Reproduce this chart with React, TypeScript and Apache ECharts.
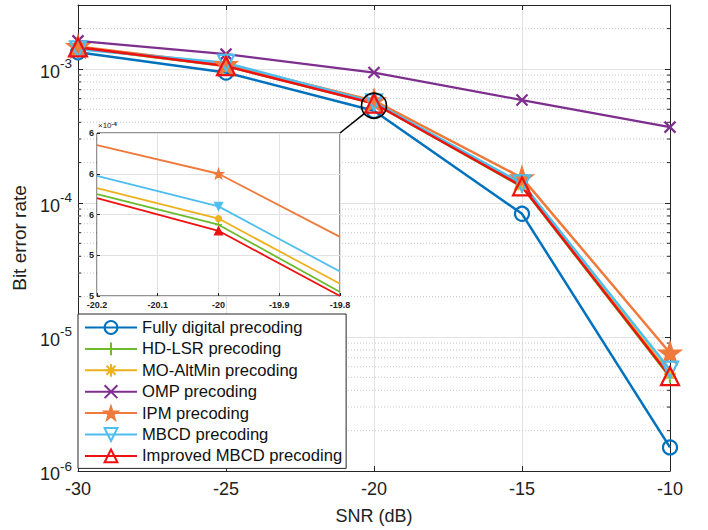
import React, { useEffect, useRef } from "react";
import * as echarts from "echarts";

// ---- data ----
const snr = [-30, -25, -20, -15, -10];
const fullyDigital = [1.33e-3, 0.94e-3, 4.87e-4, 8.3e-5, 1.5e-6];
const hdLsr = [1.44e-3, 1.05e-3, 5.55e-4, 1.32e-4, 5.0e-6];
const moAltMin = [1.45e-3, 1.06e-3, 5.58e-4, 1.35e-4, 5.3e-6];
const omp = [1.62e-3, 1.29e-3, 9.4e-4, 5.86e-4, 3.68e-4];
const ipm = [1.47e-3, 1.08e-3, 5.8e-4, 1.54e-4, 7.6e-6];
const mbcd = [1.4e-3, 1.11e-3, 5.64e-4, 1.4e-4, 5.7e-6];
const improvedMbcd = [1.45e-3, 1.05e-3, 5.52e-4, 1.33e-4, 5.1e-6];

// inset (values in units of 1e-4)
const insetSnr = [-20.2, -20, -19.8];
const insetIpm = [5.94, 5.8, 5.49];
const insetMbcd = [5.79, 5.64, 5.32];
const insetMoAltMin = [5.73, 5.58, 5.26];
const insetHdLsr = [5.7, 5.55, 5.22];
const insetImproved = [5.68, 5.52, 5.2];

const names = [
  "Fully digital precoding",
  "HD-LSR precoding",
  "MO-AltMin precoding",
  "OMP precoding",
  "IPM precoding",
  "MBCD precoding",
  "Improved MBCD precoding",
];

const X_MIN = -30;
const X_MAX = -10;
const Y_MIN = 1e-6;
const Y_MAX = 3e-3;
const decades = [1e-6, 1e-5, 1e-4, 1e-3];
const minorMultipliers = [2, 3, 4, 5, 6, 7, 8, 9];

const FONT = "'Liberation Sans', Arial, Helvetica, sans-serif";
const C = {
  blue: "#0072BD",
  green: "#6DBB2E",
  yellow: "#EDB120",
  purple: "#7E2F8E",
  orange: "#EF7A3C",
  cyan: "#4DBEEE",
  red: "#EE1111",
};

const SYM = {
  plus: "path://M5,0L5,10M0,5L10,5",
  asterisk: "path://M5,0L5,10M0,5L10,5M1.5,1.5L8.5,8.5M8.5,1.5L1.5,8.5",
  cross: "path://M0,0L10,10M10,0L0,10",
  star:
    "path://M10,0L12.245,6.91L19.511,6.91L13.633,11.18L15.878,18.09L10,13.82L4.122,18.09L6.367,11.18L0.489,6.91L7.755,6.91Z",
  down: "path://M0,0L10,0L5,8.66Z",
  up: "path://M5,0L10,8.66L0,8.66Z",
};

export default function App() {
  const ref = useRef<HTMLDivElement>(null);
  useEffect(() => {
    if (!ref.current) return;
    const chart = echarts.init(ref.current, undefined, { renderer: "svg" });

    const minorValues: number[] = [];
    decades.forEach((d) =>
      minorMultipliers.forEach((m) => {
        const v = m * d;
        if (v < Y_MAX * 0.999) minorValues.push(v);
      })
    );

    const mainSeries = (
      name: string,
      vals: number[],
      color: string,
      symbol: string,
      size: number,
      fill: string,
      lw = 2.5
    ) => ({
      type: "line",
      name,
      xAxisIndex: 0,
      yAxisIndex: 0,
      data: snr.map((x, i) => [x, vals[i]]),
      symbol,
      symbolSize: size,
      showSymbol: true,
      lineStyle: { color, width: lw },
      itemStyle: { color: fill, borderColor: color, borderWidth: 2.2 },
      z: 3,
    });

    const insetSeries = (
      name: string,
      vals: number[],
      color: string,
      symbol: string,
      size: number
    ) => ({
      type: "line",
      name,
      xAxisIndex: 2,
      yAxisIndex: 2,
      data: insetSnr.map((x, i) =>
        x === -20 ? [x, vals[i]] : { value: [x, vals[i]], symbol: "none" }
      ),
      symbol,
      symbolSize: size,
      lineStyle: { color, width: 1.8 },
      itemStyle: { color, borderColor: color, borderWidth: 1.2 },
      z: 6,
    });

    const axisTxt = { color: "#222", fontFamily: FONT };

    chart.setOption({
      animation: false,
      textStyle: { fontFamily: FONT },
      grid: [
        { left: 78, right: 38, top: 5, bottom: 59, show: false },
        {
          left: 97,
          top: 133,
          width: 243,
          height: 163,
          show: true,
          backgroundColor: "#fff",
          borderColor: "#262626",
          borderWidth: 1,
          z: 4,
        },
      ],
      xAxis: [
        {
          gridIndex: 0,
          type: "value",
          min: X_MIN,
          max: X_MAX,
          interval: 5,
          position: "bottom",
          name: "SNR (dB)",
          nameLocation: "middle",
          nameGap: 36,
          nameTextStyle: { ...axisTxt, fontSize: 18 },
          axisLine: { show: true, lineStyle: { color: "#262626", width: 1 } },
          axisTick: { inside: true, length: 5, lineStyle: { color: "#262626" } },
          axisLabel: { ...axisTxt, fontSize: 18, margin: 9 },
          splitLine: { show: true, lineStyle: { color: "#e2e2e2", width: 1 } },
        },
        {
          gridIndex: 0,
          type: "value",
          min: X_MIN,
          max: X_MAX,
          interval: 5,
          position: "top",
          axisLine: { show: true, lineStyle: { color: "#262626", width: 1 } },
          axisTick: { inside: true, length: 5, lineStyle: { color: "#262626" } },
          axisLabel: { show: false },
          splitLine: { show: false },
        },
        {
          gridIndex: 1,
          type: "value",
          min: -20.2,
          max: -19.8,
          interval: 0.1,
          z: 5,
          axisLine: { show: false },
          axisTick: { inside: true, length: 3, lineStyle: { color: "#262626" } },
          axisLabel: {
            ...axisTxt,
            fontSize: 9,
            fontWeight: "bold",
            margin: 4,
            formatter: (v: number) => String(Math.round(v * 10) / 10),
          },
          splitLine: { show: true, lineStyle: { color: "#e2e2e2", width: 1 } },
        },
      ],
      yAxis: [
        {
          gridIndex: 0,
          type: "log",
          logBase: 10,
          min: Y_MIN,
          max: Y_MAX,
          position: "left",
          name: "Bit error rate",
          nameLocation: "middle",
          nameGap: 47,
          nameTextStyle: { ...axisTxt, fontSize: 19 },
          axisLine: { show: true, lineStyle: { color: "#262626", width: 1 } },
          axisTick: { inside: true, length: 5, lineStyle: { color: "#262626" } },
          axisLabel: {
            ...axisTxt,
            margin: 6,
            formatter: (v: number) => {
              const l = Math.log10(v);
              const e = Math.round(l);
              if (Math.abs(l - e) > 1e-6) return "";
              return `{b|10}{s|${e}}`;
            },
            rich: {
              b: { fontSize: 18, color: "#222", verticalAlign: "bottom", padding: [6, 0, 0, 0], fontFamily: FONT },
              s: { fontSize: 13.5, color: "#222", verticalAlign: "top", fontFamily: FONT },
            },
          },
          splitLine: { show: true, lineStyle: { color: "#e2e2e2", width: 1 } },
        },
        {
          gridIndex: 0,
          type: "log",
          logBase: 10,
          min: Y_MIN,
          max: Y_MAX,
          position: "right",
          axisLine: { show: true, lineStyle: { color: "#262626", width: 1 } },
          axisTick: { inside: true, length: 5, lineStyle: { color: "#262626" } },
          axisLabel: { show: false },
          splitLine: { show: false },
        },
        {
          gridIndex: 1,
          type: "value",
          min: 5.2,
          max: 6.0,
          interval: 0.2,
          z: 5,
          axisLine: { show: false },
          axisTick: { inside: true, length: 3, lineStyle: { color: "#262626" } },
          axisLabel: {
            ...axisTxt,
            fontSize: 9,
            fontWeight: "bold",
            margin: 3,
            formatter: (v: number) => String(Math.round(v)),
          },
          splitLine: { show: true, lineStyle: { color: "#e2e2e2", width: 1 } },
        },
      ],
      legend: {
        data: names,
        orient: "vertical",
        left: 78,
        top: 314,
        itemWidth: 52,
        itemHeight: 16,
        itemGap: 4.4,
        padding: [5, 4, 4, 6],
        borderColor: "#262626",
        borderWidth: 1,
        borderRadius: 0,
        backgroundColor: "#fff",
        textStyle: { fontSize: 16.6, lineHeight: 17, color: "#111", fontFamily: FONT },
        z: 8,
      },
      series: [
        {
          type: "custom",
          name: "minor",
          xAxisIndex: 0,
          yAxisIndex: 0,
          silent: true,
          z: 1,
          data: minorValues.map((v) => [X_MIN, v]),
          renderItem: (_p: any, api: any) => {
            const v = api.value(1);
            const l = api.coord([X_MIN, v]);
            const r = api.coord([X_MAX, v]);
            return {
              type: "group",
              children: [
                {
                  type: "line",
                  shape: { x1: l[0], y1: l[1], x2: r[0], y2: r[1] },
                  style: { stroke: "#c8c8c8", lineWidth: 1, lineDash: [1, 2] },
                },
                {
                  type: "line",
                  shape: { x1: l[0], y1: l[1], x2: l[0] + 3, y2: l[1] },
                  style: { stroke: "#262626", lineWidth: 1 },
                },
                {
                  type: "line",
                  shape: { x1: r[0] - 3, y1: r[1], x2: r[0], y2: r[1] },
                  style: { stroke: "#262626", lineWidth: 1 },
                },
              ],
            };
          },
        },
        mainSeries(names[0], fullyDigital, C.blue, "circle", 14, "rgba(0,0,0,0)"),
        mainSeries(names[1], hdLsr, C.green, SYM.plus, 12, "rgba(0,0,0,0)"),
        mainSeries(names[2], moAltMin, C.yellow, SYM.asterisk, 12, "rgba(0,0,0,0)"),
        mainSeries(names[3], omp, C.purple, SYM.cross, 11, "rgba(0,0,0,0)", 2.2),
        mainSeries(names[4], ipm, C.orange, SYM.star, 20, C.orange),
        mainSeries(names[5], mbcd, C.cyan, SYM.down, 16, "rgba(0,0,0,0)"),
        mainSeries(names[6], improvedMbcd, C.red, SYM.up, 18, "rgba(0,0,0,0)"),
        insetSeries(names[1], insetHdLsr, C.green, SYM.plus, 7),
        insetSeries(names[2], insetMoAltMin, C.yellow, "circle", 6),
        insetSeries(names[4], insetIpm, C.orange, SYM.star, 10),
        insetSeries(names[5], insetMbcd, C.cyan, SYM.down, 8),
        insetSeries(names[6], insetImproved, C.red, SYM.up, 8),
      ],
    });

    // annotation: circle around the -20 dB cluster and connector to inset
    const centerVal = Math.sqrt(fullyDigital[2] * ipm[2]);
    const cp = chart.convertToPixel({ xAxisIndex: 0, yAxisIndex: 0 }, [-20, centerVal]) as number[];
    const corner = chart.convertToPixel({ xAxisIndex: 2, yAxisIndex: 2 }, [-19.8, 6.0]) as number[];
    const R = 12.5;
    const dx = corner[0] - cp[0];
    const dy = corner[1] - cp[1];
    const len = Math.sqrt(dx * dx + dy * dy);
    const ex = cp[0] + (dx / len) * R;
    const ey = cp[1] + (dy / len) * R;
    const [topL] = chart.convertToPixel({ xAxisIndex: 2, yAxisIndex: 2 }, [-20.2, 6.0]) as number[];

    chart.setOption({
      graphic: [
        {
          type: "circle",
          shape: { cx: cp[0], cy: cp[1], r: R },
          style: { fill: "none", stroke: "#000", lineWidth: 1.6 },
          z: 20,
        },
        {
          type: "line",
          shape: { x1: ex, y1: ey, x2: corner[0], y2: corner[1] },
          style: { stroke: "#000", lineWidth: 1.6 },
          z: 20,
        },
        {
          type: "text",
          x: topL + 1,
          y: corner[1] - 12,
          style: {
            text: "×10{s|-4}",
            fontSize: 8,
            fontFamily: FONT,
            fill: "#222",
            rich: { s: { fontSize: 6, verticalAlign: "top", fontWeight: "bold", fill: "#222" } },
          },
          z: 20,
        },
      ],
    });

    return () => chart.dispose();
  }, []);

  return (
    <div
      ref={ref}
      style={{ position: "fixed", left: 0, top: 0, width: 708, height: 530, background: "#fff" }}
    />
  );
}
